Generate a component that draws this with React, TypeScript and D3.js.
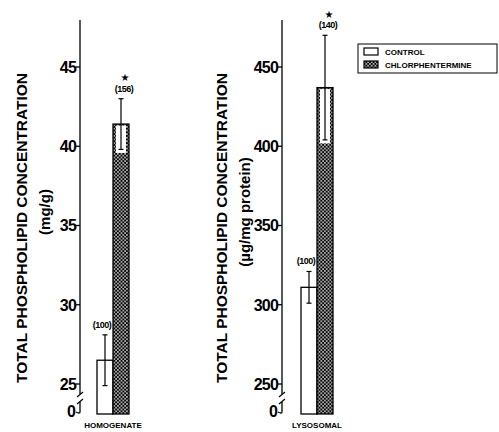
import * as d3 from "d3";

// values
const groups = ["Control", "Chlorphentermine"];
const homogenateMeans = [26.5, 41.4];
const homogenateErrors = [1.6, 1.6];
const homogenatePercents = ["(100)", "(156)"];
const lysosomalMeans = [311, 437];
const lysosomalErrors = [10, 33];
const lysosomalPercents = ["(100)", "(140)"];
const homogenateTicks = [25, 30, 35, 40, 45];
const lysosomalTicks = [250, 300, 350, 400, 450];
const legendLabels = ["CONTROL", "CHLORPHENTERMINE"];

const W = 499;
const H = 432;
const baseY = 414;
const axisTop = 20;
const font = "'Liberation Sans', Arial, sans-serif";

type PanelProps = {
  axisX: number;
  barStart: number;
  domain: [number, number];
  ticks: number[];
  means: number[];
  errors: number[];
  percents: string[];
  title: string;
  unit: string;
  titleX: number;
  name: string;
};

function Panel(p: PanelProps) {
  const y = d3.scaleLinear().domain(p.domain).range([384, 67]);
  const x = d3.scaleBand().domain(groups).range([p.barStart, p.barStart + 32]).padding(0);
  const bw = x.bandwidth();
  const topVal = y.invert(axisTop);
  const breakY = 398;

  return (
    <g>
      {/* axis with break */}
      <line x1={p.axisX} x2={p.axisX} y1={axisTop} y2={breakY - 4} stroke="#000" strokeWidth={1.3} />
      <line x1={p.axisX} x2={p.axisX} y1={breakY + 4} y2={baseY - 2} stroke="#000" strokeWidth={1.3} />
      <line x1={p.axisX - 3} x2={p.axisX + 3} y1={breakY - 1} y2={breakY - 6} stroke="#000" strokeWidth={1.2} />
      <line x1={p.axisX - 3} x2={p.axisX + 3} y1={breakY + 6} y2={breakY + 1} stroke="#000" strokeWidth={1.2} />
      <path d={`M${p.axisX},${baseY - 2} Q${p.axisX},${baseY} ${p.axisX - 4},${baseY - 2}`} fill="none" stroke="#000" strokeWidth={1.3} />
      {p.ticks.filter((t) => t <= topVal).map((t) => (
        <g key={t}>
          <line x1={p.axisX - 4} x2={p.axisX} y1={y(t)} y2={y(t)} stroke="#000" strokeWidth={1.3} />
          <text x={p.axisX - 4} y={y(t)} dy="0.36em" textAnchor="end" fontSize={16} fontWeight="bold" letterSpacing={-0.8} fontFamily={font}>
            {t}
          </text>
        </g>
      ))}
      <text x={p.axisX - 4} y={baseY - 3} dy="0.36em" textAnchor="end" fontSize={16} fontWeight="bold" fontFamily={font}>
        0
      </text>

      {/* bars */}
      {groups.map((g, i) => {
        const bx = x(g)!;
        const top = y(p.means[i]);
        const eTop = y(p.means[i] + p.errors[i]);
        const eBot = y(p.means[i] - p.errors[i]);
        const cx = bx + bw / 2;
        return (
          <g key={g}>
            <rect x={bx} y={top} width={bw} height={baseY - top} fill={i === 0 ? "#fff" : "url(#dots)"} stroke="#000" strokeWidth={1.3} />
            {i === 1 && (
              <rect x={bx + 3} y={top + 1.5} width={bw - 6} height={eBot - top + 2} fill="#fff" />
            )}
            <line x1={cx} x2={cx} y1={eTop} y2={eBot} stroke="#000" strokeWidth={1.2} />
            <line x1={cx - 2.5} x2={cx + 2.5} y1={eTop} y2={eTop} stroke="#000" strokeWidth={1.2} />
            <line x1={cx - 2.5} x2={cx + 2.5} y1={eBot} y2={eBot} stroke="#000" strokeWidth={1.2} />
            <text x={cx - (i === 0 ? 3 : -3)} y={eTop - 7} textAnchor="middle" fontSize={9} fontWeight="bold" letterSpacing={-0.5} fontFamily={font}>
              {p.percents[i]}
            </text>
            {i === 1 && (
              <text x={cx + 4} y={eTop - 17.5} textAnchor="middle" fontSize={10} fontFamily="DejaVu Sans">
                ★
              </text>
            )}
          </g>
        );
      })}

      {/* labels */}
      <text x={p.barStart + 16} y={428} textAnchor="middle" fontSize={8} fontWeight="bold" fontFamily={font}>
        {p.name}
      </text>
      <text transform={`translate(${p.titleX},228) rotate(-90)`} textAnchor="middle" fontSize={15.5} fontWeight="bold" fontFamily={font} textLength={310} lengthAdjust="spacingAndGlyphs">
        {p.title}
      </text>
      <text transform={`translate(${p.titleX + 23},212) rotate(-90)`} textAnchor="middle" fontSize={15} fontWeight="bold" fontFamily={font}>
        {p.unit}
      </text>
    </g>
  );
}

export default function App() {
  return (
    <svg width={W} height={H} style={{ position: "absolute", left: 0, top: 0, background: "#fff" }}>
      <defs>
        <pattern id="dots" width={3.6} height={3.6} patternUnits="userSpaceOnUse">
          <rect width={3.6} height={3.6} fill="#000" />
          <circle cx={0.9} cy={0.9} r={0.8} fill="#fff" />
          <circle cx={2.7} cy={2.7} r={0.8} fill="#fff" />
        </pattern>
      </defs>
      <rect width={W} height={H} fill="#fff" />
      <Panel
        axisX={80}
        barStart={97}
        domain={[25, 45]}
        ticks={homogenateTicks}
        means={homogenateMeans}
        errors={homogenateErrors}
        percents={homogenatePercents}
        title="TOTAL PHOSPHOLIPID CONCENTRATION"
        unit="(mg/g)"
        titleX={27}
        name="HOMOGENATE"
      />
      <Panel
        axisX={282}
        barStart={301}
        domain={[250, 450]}
        ticks={lysosomalTicks}
        means={lysosomalMeans}
        errors={lysosomalErrors}
        percents={lysosomalPercents}
        title="TOTAL PHOSPHOLIPID CONCENTRATION"
        unit="(µg/mg protein)"
        titleX={227}
        name="LYSOSOMAL"
      />
      {/* legend */}
      <rect x={358} y={44} width={139} height={29} fill="#fff" stroke="#000" strokeWidth={1} />
      {legendLabels.map((l, i) => (
        <g key={l}>
          <rect x={364} y={48 + i * 13} width={14} height={7} fill={i === 0 ? "#fff" : "url(#dots)"} stroke="#000" strokeWidth={1.2} />
          <text x={385} y={55 + i * 13} fontSize={8} fontWeight="bold" fontFamily={font}>
            {l}
          </text>
        </g>
      ))}
    </svg>
  );
}
